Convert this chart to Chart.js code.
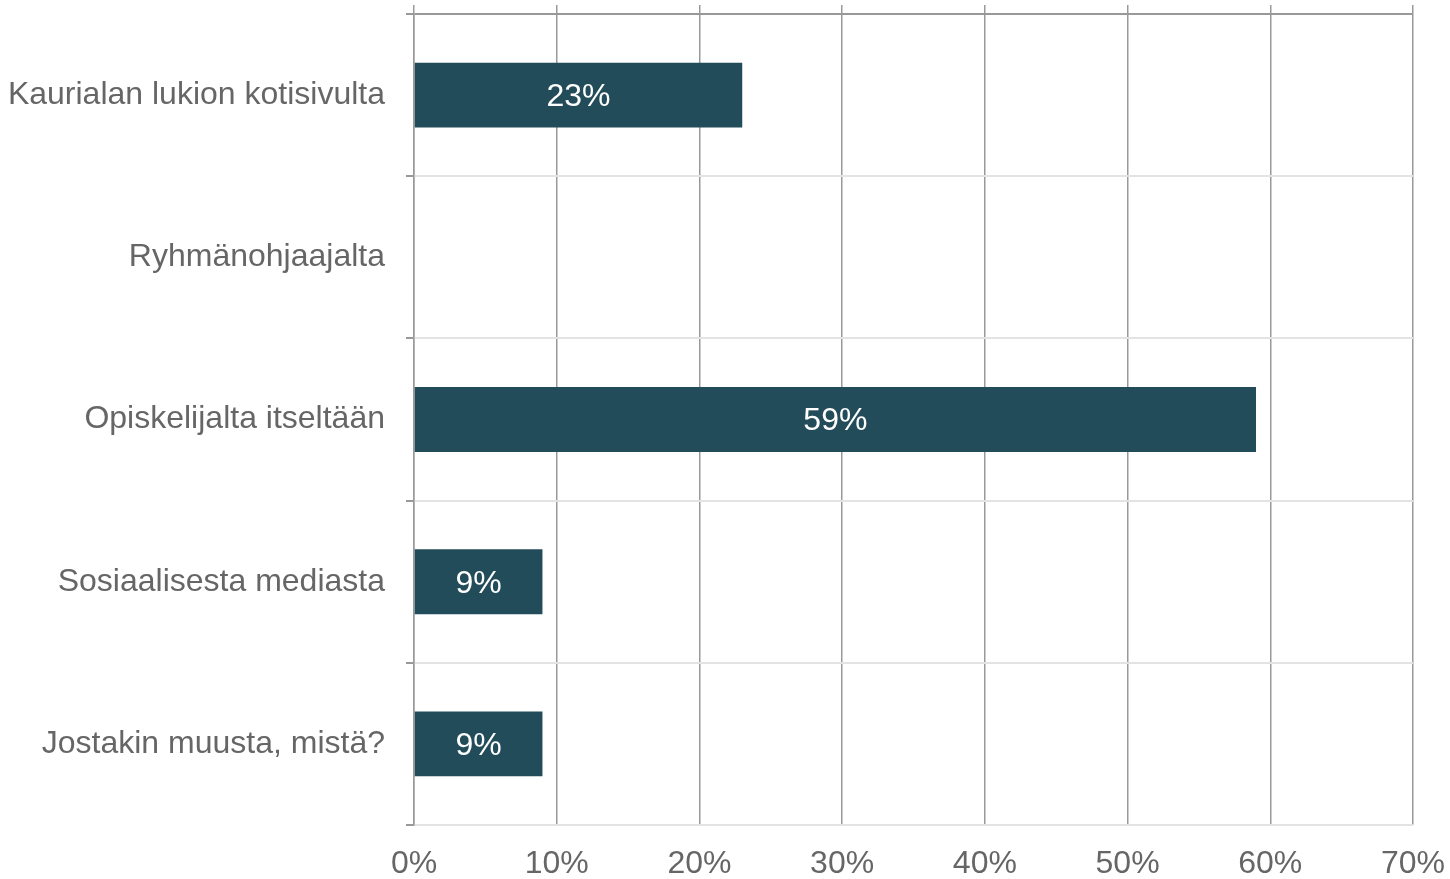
<!DOCTYPE html>
<html>
<head>
<meta charset="utf-8">
<script src="https://cdn.jsdelivr.net/npm/chart.js@4"></script>
<style>
  html, body { margin: 0; padding: 0; background: #fff; }
  #wrap { width: 1450px; height: 879px; }
</style>
</head>
<body>
<div id="wrap"><canvas id="chart"></canvas></div>
<script>
// data
const categories = ['Kaurialan lukion kotisivulta', 'Ryhmänohjaajalta', 'Opiskelijalta itseltään', 'Sosiaalisesta mediasta', 'Jostakin muusta, mistä?'];
const values = [23, 0, 59, 9, 9];
const xTicks = [0, 10, 20, 30, 40, 50, 60, 70];

const FONT = '"Liberation Sans", Arial, sans-serif';
const TEXT = '#666666';
const DARK_LINE = '#999999';
const LIGHT_LINE = '#e3e3e3';

// white percentages inside the bars
const barLabels = {
  id: 'barLabels',
  afterDatasetsDraw(chart) {
    const ctx = chart.ctx;
    const meta = chart.getDatasetMeta(0);
    ctx.save();
    ctx.fillStyle = '#ffffff';
    ctx.font = '32px ' + FONT;
    ctx.textAlign = 'center';
    ctx.textBaseline = 'middle';
    meta.data.forEach((bar, i) => {
      const v = values[i];
      if (!v) return;
      ctx.fillText(v + '%', (bar.x + bar.base) / 2, bar.y + 2);
    });
    ctx.restore();
  }
};

new Chart(document.getElementById('chart'), {
  type: 'bar',
  data: {
    labels: categories,
    datasets: [{
      data: values,
      backgroundColor: '#234c5a',
      borderWidth: 0,
      categoryPercentage: 0.4,
      barPercentage: 1.0
    }]
  },
  options: {
    indexAxis: 'y',
    responsive: true,
    maintainAspectRatio: false,
    animation: false,
    layout: { padding: { top: 5, right: 37, left: 0, bottom: 0 } },
    plugins: {
      legend: { display: false },
      tooltip: { enabled: false }
    },
    scales: {
      x: {
        position: 'bottom',
        min: 0,
        max: 70,
        afterBuildTicks: s => { s.ticks = xTicks.map(v => ({ value: v })); },
        afterFit: s => { s.height = 54; s.paddingLeft = 0; s.paddingRight = 0; },
        border: { display: false },
        grid: {
          color: DARK_LINE,
          lineWidth: 1.5,
          drawTicks: false
        },
        ticks: {
          padding: 20,
          color: TEXT,
          font: { family: FONT, size: 32 },
          callback: v => v + '%'
        }
      },
      x2: {
        position: 'top',
        min: 0,
        max: 70,
        afterBuildTicks: s => { s.ticks = xTicks.map(v => ({ value: v })); },
        afterFit: s => { s.height = 9; s.paddingLeft = 0; s.paddingRight = 0; },
        border: { display: false },
        grid: {
          drawOnChartArea: false,
          tickLength: 9,
          tickColor: DARK_LINE,
          lineWidth: 1.5
        },
        ticks: { display: false }
      },
      y: {
        offset: true,
        afterFit: s => { s.width = 414; s.paddingTop = 0; s.paddingBottom = 0; },
        border: { display: true, color: DARK_LINE, width: 1.5 },
        grid: {
          offset: true,
          color: ctx => ctx.index === 0 ? DARK_LINE : LIGHT_LINE,
          lineWidth: 2,
          tickColor: DARK_LINE,
          tickLength: 8
        },
        ticks: {
          padding: 21,
          color: TEXT,
          font: { family: FONT, size: 32 }
        }
      }
    }
  },
  plugins: [barLabels]
});
</script>
</body>
</html>
